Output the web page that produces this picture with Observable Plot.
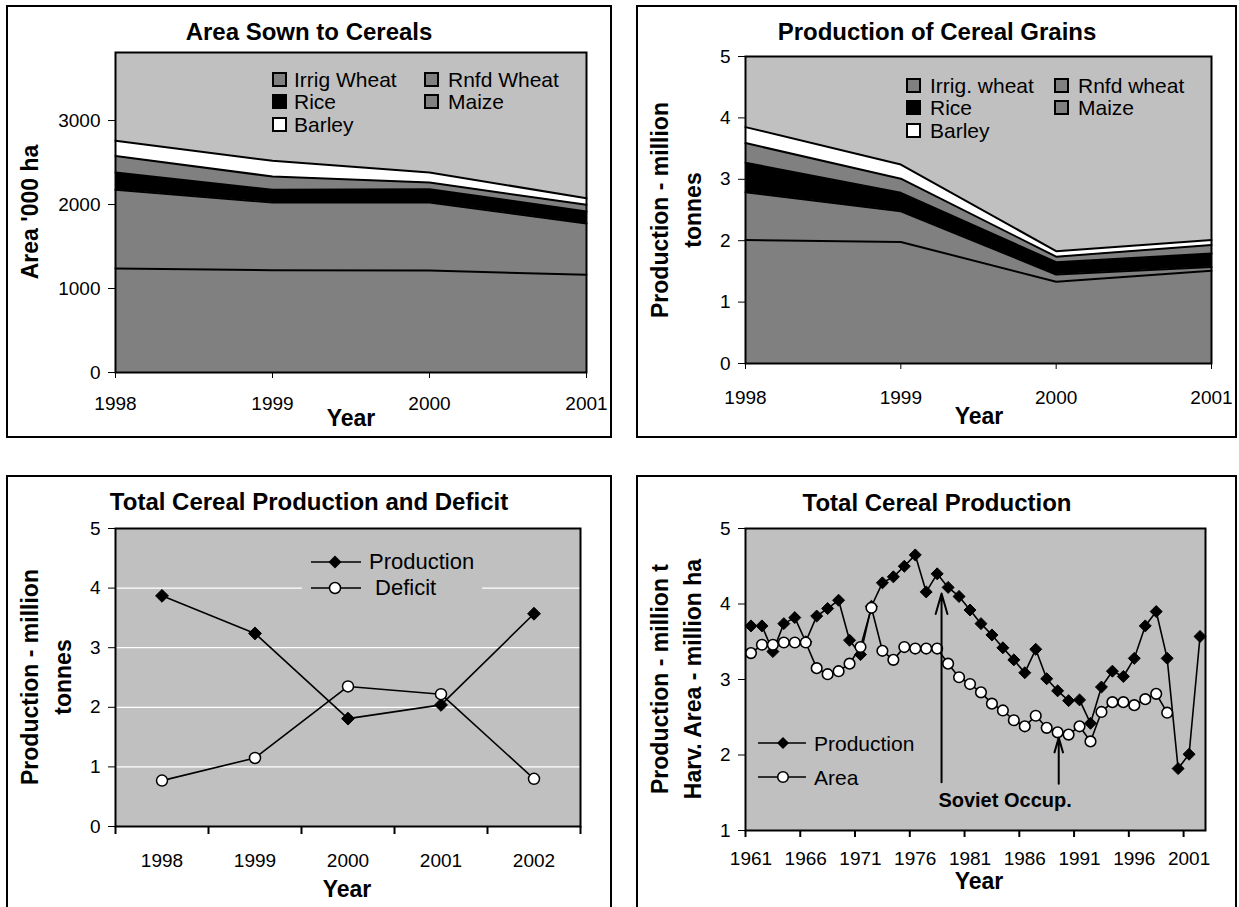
<!DOCTYPE html>
<html><head><meta charset="utf-8">
<script src="https://cdn.jsdelivr.net/npm/d3@7"></script>
<script src="https://cdn.jsdelivr.net/npm/@observablehq/plot@0.6"></script>
<style>
body{margin:0;background:#fff;font-family:"Liberation Sans",Arial,Helvetica,sans-serif;color:#000;}
#root{position:relative;width:1239px;height:907px;overflow:hidden;background:#fff;}
.box{position:absolute;border:2px solid #000;box-sizing:border-box;}
.abs{position:absolute;white-space:nowrap;line-height:1;}
.wrap{position:absolute;}
.sq{position:absolute;box-sizing:border-box;border:2px solid #000;}
</style>
</head><body><div id="root"></div>
<script>
// ---------- Data ----------
const stackYears = [1998, 1999, 2000, 2001];
const cropNames = ["Irrig Wheat", "Rnfd Wheat", "Rice", "Maize", "Barley"];
const cropFills = ["#808080", "#808080", "#000000", "#808080", "#ffffff"];

// Area sown ('000 ha), layer thickness
const areaIrrigWheat = [1238, 1218, 1214, 1163];
const areaRnfdWheat  = [937, 806, 810, 611];
const areaRice       = [206, 151, 159, 143];
const areaMaize      = [198, 158, 79, 79];
const areaBarley     = [179, 187, 119, 79];

// Production (million t), layer thickness
const prodIrrigWheat = [2.01, 1.98, 1.33, 1.51];
const prodRnfdWheat  = [0.78, 0.50, 0.12, 0.06];
const prodRice       = [0.48, 0.30, 0.20, 0.22];
const prodMaize      = [0.32, 0.23, 0.09, 0.14];
const prodBarley     = [0.26, 0.23, 0.09, 0.08];
const prodLegendNames = ["Irrig. wheat", "Rnfd wheat", "Rice", "Maize", "Barley"];

// Total production and deficit
const deficitYears = [1998, 1999, 2000, 2001, 2002];
const totalProduction = [3.87, 3.24, 1.81, 2.04, 3.57];
const totalDeficit = [0.77, 1.15, 2.35, 2.22, 0.80];

// Long-run series 1961-2002
const longYears = [1961,1962,1963,1964,1965,1966,1967,1968,1969,1970,1971,1972,1973,1974,1975,1976,1977,1978,1979,1980,1981,1982,1983,1984,1985,1986,1987,1988,1989,1990,1991,1992,1993,1994,1995,1996,1997,1998,1999,2000,2001,2002];
const longProduction = [3.71,3.71,3.37,3.74,3.82,3.50,3.84,3.94,4.05,3.52,3.33,3.97,4.28,4.36,4.50,4.65,4.16,4.40,4.22,4.10,3.92,3.74,3.59,3.42,3.26,3.09,3.40,3.01,2.85,2.72,2.73,2.42,2.90,3.11,3.04,3.28,3.71,3.90,3.28,1.82,2.01,3.57];
const longArea = [3.35,3.46,3.46,3.49,3.49,3.49,3.15,3.07,3.11,3.21,3.43,3.95,3.38,3.26,3.43,3.41,3.41,3.41,3.21,3.03,2.94,2.83,2.68,2.59,2.46,2.38,2.52,2.36,2.30,2.27,2.38,2.18,2.57,2.70,2.70,2.66,2.74,2.81,2.56];
const longTickLabels = [1961, 1966, 1971, 1976, 1981, 1986, 1991, 1996, 2001];
const arrowNotes = [{x1: 1978.4, y1: 1.64, x2: 1978.4, y2: 4.14}, {x1: 1989.1, y1: 1.62, x2: 1989.1, y2: 2.23}];
const textNotes = [{x: 1984.2, y: 1.40, text: "Soviet Occup."}];

// ---------- Helpers ----------
const FONT = '"Liberation Sans", Arial, Helvetica, sans-serif';
const root = document.getElementById("root");
function box(l, t, w, h) { const d = document.createElement("div"); d.className = "box"; Object.assign(d.style, {left: l + "px", top: t + "px", width: w + "px", height: h + "px"}); root.appendChild(d); }
function text(str, x, y, {size = 19, weight = "normal", anchor = "middle", rotate = false, parent = root} = {}) {
  const d = document.createElement("div"); d.className = "abs"; d.textContent = str;
  d.style.left = x + "px"; d.style.top = y + "px"; d.style.fontSize = size + "px"; d.style.fontWeight = weight;
  const tx = anchor === "middle" ? "-50%" : anchor === "end" ? "-100%" : "0";
  d.style.transform = rotate ? "translate(-50%,-50%) rotate(-90deg)" : `translate(${tx},-50%)`;
  parent.appendChild(d); return d;
}
function place(svg, l, t, w) { const d = document.createElement("div"); d.className = "wrap"; d.style.left = l + "px"; d.style.top = t + "px"; d.style.width = w + "px"; d.appendChild(svg); root.appendChild(d); }
const baseStyle = {fontFamily: FONT, fontSize: "19px", color: "#000", background: "transparent", overflow: "visible"};

function stackRows(series) {
  const rows = [];
  series.forEach((vals, ci) => stackYears.forEach((yr, i) => rows.push({year: yr, crop: cropNames[ci], fill: cropFills[ci], value: vals[i]})));
  return rows;
}

function stackedPlot(rows, {width, height, ml, mr, mt, mb, ymax, yticks, padX}) {
  return Plot.plot({
    width, height, marginLeft: ml, marginRight: mr, marginTop: mt, marginBottom: mb,
    x: {domain: [1998, 2001]}, y: {domain: [0, ymax]}, color: {type: "identity"},
    style: baseStyle,
    marks: [
      Plot.frame({fill: "#c0c0c0", stroke: null}),
      Plot.areaY(rows, {x: "year", y: "value", z: "crop", fill: "fill", order: cropNames}),
      Plot.lineY(rows, Plot.stackY2({x: "year", y: "value", z: "crop", order: cropNames, stroke: "#000", strokeWidth: 2})),
      Plot.frame({stroke: "#000", strokeWidth: 2}),
      Plot.axisY({ticks: yticks, tickSize: 7, tickPadding: 8, label: null, tickFormat: d => String(d)}),
      Plot.axisX({ticks: stackYears, tickSize: 6, tickPadding: padX, label: null, tickFormat: d => String(d)})
    ]
  });
}

function legendSquares(names, cols, rowsY, sqSize, textX) {
  const slots = [[0, 0], [1, 0], [0, 1], [1, 1], [0, 2]];
  names.forEach((n, i) => {
    const [c, r] = slots[i];
    const sq = document.createElement("div"); sq.className = "sq";
    Object.assign(sq.style, {left: cols[c] + "px", top: (rowsY[r] - sqSize / 2) + "px", width: sqSize + "px", height: sqSize + "px", background: cropFills[i]});
    root.appendChild(sq);
    text(n, textX[c], rowsY[r], {size: 21, anchor: "start"});
  });
}

// ---------- Panel 1 ----------
box(6, 5, 606, 433);
place(stackedPlot(stackRows([areaIrrigWheat, areaRnfdWheat, areaRice, areaMaize, areaBarley]),
  {width: 606, height: 433, ml: 109, mr: 26, mt: 47, mb: 66, ymax: 3810, yticks: [0, 1000, 2000, 3000], padX: 18}), 6, 5, 606);
text("Area Sown to Cereals", 309, 32, {size: 24, weight: "bold"});
text("Area '000 ha", 30, 212, {size: 23, weight: "bold", rotate: true});
text("Year", 351, 418, {size: 23, weight: "bold"});
legendSquares(cropNames, [272, 424], [79, 101, 124], 15, [294, 448]);

// ---------- Panel 2 ----------
box(636, 5, 601, 433);
place(stackedPlot(stackRows([prodIrrigWheat, prodRnfdWheat, prodRice, prodMaize, prodBarley]),
  {width: 601, height: 433, ml: 109, mr: 26, mt: 51, mb: 75, ymax: 5, yticks: [0, 1, 2, 3, 4, 5], padX: 21}), 636, 5, 601);
text("Production of Cereal Grains", 937, 32, {size: 24, weight: "bold"});
text("Production - million", 660, 210, {size: 23, weight: "bold", rotate: true});
text("tonnes", 693, 210, {size: 23, weight: "bold", rotate: true});
text("Year", 979, 416, {size: 23, weight: "bold"});
legendSquares(prodLegendNames, [906, 1054], [85, 107, 130], 15, [930, 1078]);

// ---------- Panel 3 ----------
box(6, 475, 606, 440);
const prodRows = deficitYears.map((y, i) => ({year: y, value: totalProduction[i]}));
const defRows = deficitYears.map((y, i) => ({year: y, value: totalDeficit[i]}));
place(Plot.plot({
  width: 606, height: 432, marginLeft: 109, marginRight: 32, marginTop: 53, marginBottom: 81,
  x: {domain: [1997.5, 2002.5]}, y: {domain: [0, 5]},
  style: baseStyle,
  marks: [
    Plot.frame({fill: "#c0c0c0", stroke: null}),
    Plot.gridY({ticks: [1, 2, 3, 4], stroke: "#fff", strokeOpacity: 1, strokeWidth: 1.2}),
    Plot.line(prodRows, {x: "year", y: "value", stroke: "#000", strokeWidth: 1.6}),
    Plot.line(defRows, {x: "year", y: "value", stroke: "#000", strokeWidth: 1.6}),
    Plot.dot(prodRows, {x: "year", y: "value", symbol: "diamond2", r: 5.8, fill: "#000", stroke: "#000", strokeWidth: 1}),
    Plot.dot(defRows, {x: "year", y: "value", r: 5.5, fill: "#fff", stroke: "#000", strokeWidth: 1.5}),
    Plot.frame({stroke: "#000", strokeWidth: 2}),
    Plot.axisY({ticks: [0, 1, 2, 3, 4, 5], tickSize: 7, tickPadding: 8, label: null, tickFormat: d => String(d)}),
    Plot.axisX({ticks: deficitYears, tickSize: 0, tickPadding: 27, label: null, tickFormat: d => String(d)}),
    Plot.axisX({ticks: [1997.5, 1998.5, 1999.5, 2000.5, 2001.5, 2002.5], tickSize: 8, tickFormat: () => "", label: null, strokeWidth: 2})
  ]
}), 6, 475, 606);
text("Total Cereal Production and Deficit", 309, 502, {size: 24, weight: "bold"});
text("Production - million", 30, 677, {size: 23, weight: "bold", rotate: true});
text("tonnes", 63, 677, {size: 23, weight: "bold", rotate: true});
text("Year", 347, 889, {size: 23, weight: "bold"});
// legend
(function () {
  const bg = document.createElement("div");
  Object.assign(bg.style, {position: "absolute", left: "302px", top: "545px", width: "180px", height: "58px", background: "#c0c0c0"});
  root.appendChild(bg);
  const s = `<svg width="52" height="60" style="position:absolute;left:310px;top:545px;overflow:visible">
    <line x1="1" x2="51" y1="17" y2="17" stroke="#000" stroke-width="1.6"/>
    <path d="M25,10.5 L31.5,17 L25,23.5 L18.5,17 Z" fill="#000"/>
    <line x1="1" x2="51" y1="43" y2="43" stroke="#000" stroke-width="1.6"/>
    <circle cx="25" cy="43" r="5.5" fill="#fff" stroke="#000" stroke-width="1.5"/></svg>`;
  root.insertAdjacentHTML("beforeend", s);
  text("Production", 369, 562, {size: 22, anchor: "start"});
  text(" Deficit", 369, 588, {size: 22, anchor: "start"}).style.whiteSpace = "pre";
})();

// ---------- Panel 4 ----------
box(636, 475, 601, 440);
const lpRows = longYears.map((y, i) => ({year: y, value: longProduction[i]}));
const laRows = longArea.map((v, i) => ({year: longYears[i], value: v}));
place(Plot.plot({
  width: 601, height: 432, marginLeft: 109, marginRight: 32, marginTop: 53, marginBottom: 77,
  x: {domain: [1960.5, 2002.5]}, y: {domain: [1, 5]},
  style: baseStyle,
  marks: [
    Plot.frame({fill: "#c0c0c0", stroke: null}),
    Plot.line(lpRows, {x: "year", y: "value", stroke: "#000", strokeWidth: 1.6}),
    Plot.dot(lpRows, {x: "year", y: "value", symbol: "diamond2", r: 5.4, fill: "#000", stroke: "#000", strokeWidth: 1}),
    Plot.line(laRows, {x: "year", y: "value", stroke: "#000", strokeWidth: 1.6}),
    Plot.dot(laRows, {x: "year", y: "value", r: 5.3, fill: "#fff", stroke: "#000", strokeWidth: 1.6}),
    Plot.arrow(arrowNotes, {x1: "x1", y1: "y1", x2: "x2", y2: "y2", stroke: "#000", strokeWidth: 2, headLength: 16, headAngle: 32}),
    Plot.text(textNotes, {x: "x", y: "y", text: "text", fontSize: 20, fontWeight: "bold", fill: "#000"}),
    Plot.frame({stroke: "#000", strokeWidth: 2}),
    Plot.axisY({ticks: [1, 2, 3, 4, 5], tickSize: 7, tickPadding: 8, label: null, tickFormat: d => String(d)}),
    Plot.axisX({ticks: longTickLabels, tickSize: 0, tickPadding: 21, label: null, tickFormat: d => String(d)}),
    Plot.axisX({ticks: [1960.5, 1965.5, 1970.5, 1975.5, 1980.5, 1985.5, 1990.5, 1995.5, 2000.5], tickSize: 7, tickFormat: () => "", label: null, strokeWidth: 2})
  ]
}), 636, 475, 601);
text("Total Cereal Production", 937, 503, {size: 24, weight: "bold"});
text("Production - million t", 660, 679, {size: 23, weight: "bold", rotate: true});
text("Harv. Area - million ha", 693, 679, {size: 23, weight: "bold", rotate: true});
text("Year", 979, 881, {size: 23, weight: "bold"});
(function () {
  const s = `<svg width="50" height="50" style="position:absolute;left:757px;top:735px;overflow:visible">
    <line x1="1" x2="49" y1="8" y2="8" stroke="#000" stroke-width="1.6"/>
    <path d="M26,2 L32,8 L26,14 L20,8 Z" fill="#000"/>
    <line x1="1" x2="49" y1="42" y2="42" stroke="#000" stroke-width="1.6"/>
    <circle cx="26" cy="42" r="5.3" fill="#fff" stroke="#000" stroke-width="1.6"/></svg>`;
  root.insertAdjacentHTML("beforeend", s);
  text("Production", 814, 743, {size: 21, anchor: "start"});
  text("Area", 814, 777, {size: 21, anchor: "start"});
})();
</script>
</body></html>
